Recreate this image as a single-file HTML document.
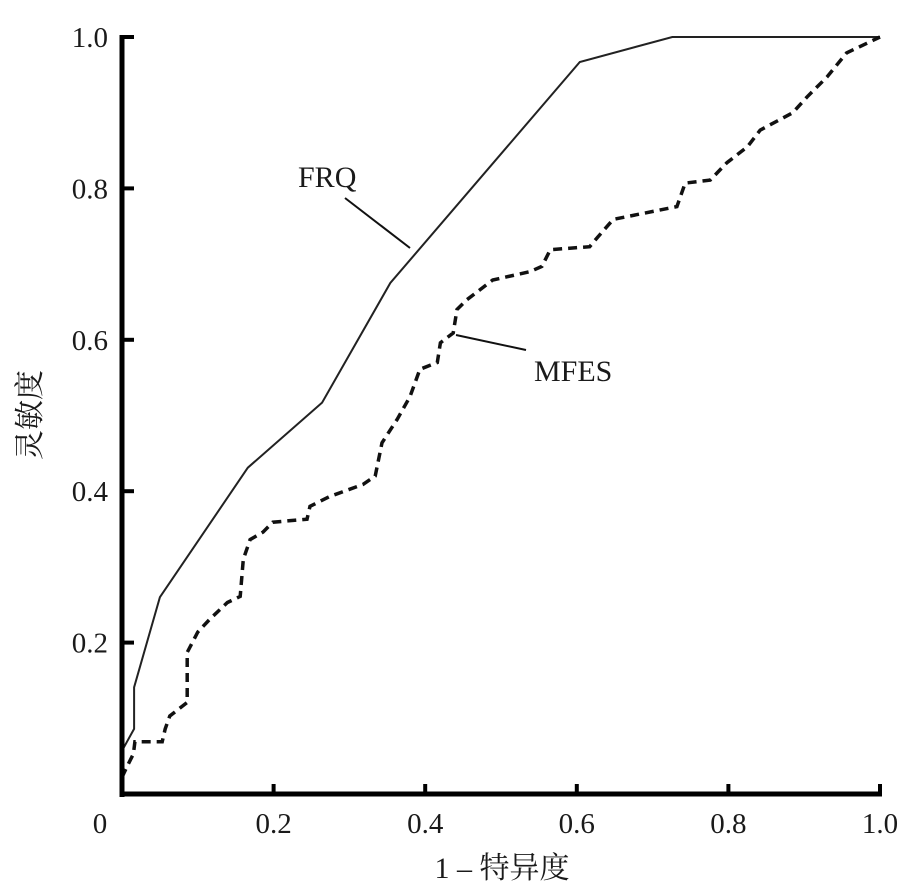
<!DOCTYPE html>
<html><head><meta charset="utf-8"><style>
html,body{margin:0;padding:0;background:#fff;}
svg{display:block;}
text{font-family:"Liberation Serif","Noto Serif CJK SC",serif;fill:#1a1a1a;}
</style></head><body>
<svg id="chart" width="914" height="890" viewBox="0 0 914 890"></svg>
<script>
const xTicks=[0,0.2,0.4,0.6,0.8,1.0];
const xTickLabels=["0","0.2","0.4","0.6","0.8","1.0"];
const yTicks=[0.2,0.4,0.6,0.8,1.0];
const yTickLabels=["0.2","0.4","0.6","0.8","1.0"];
const frqX=[0,0.001,0.016,0.016,0.05,0.166,0.264,0.354,0.604,0.726,1];
const frqY=[0.046,0.059,0.086,0.141,0.26,0.431,0.517,0.675,0.967,1,1];
const mfesX=[0,.007,.015,.017,.053,.057,.063,.086,.086,.100,.116,.139,.156,.160,.169,.186,.199,.244,.248,.274,.318,.334,.343,.363,.380,.393,.416,.420,.437,.442,.455,.489,.538,.554,.565,.617,.627,.648,.732,.743,.776,.798,.825,.842,.885,.904,.930,.956,1];
const mfesY=[.022,.037,.053,.069,.069,.086,.103,.121,.187,.214,.231,.253,.261,.310,.336,.346,.359,.363,.380,.393,.409,.420,.464,.495,.525,.561,.570,.596,.609,.640,.653,.679,.690,.697,.719,.723,.735,.759,.776,.807,.811,.834,.855,.877,.900,.921,.947,.979,1];

const X0=122,X1=880,Y0=794,Y1=37;
const sx=v=>X0+(X1-X0)*v;
const sy=v=>Y0-(Y0-Y1)*v;
const NS="http://www.w3.org/2000/svg";
const svg=document.getElementById('chart');
function mk(tag,attrs,parent){const e=document.createElementNS(NS,tag);for(const k in attrs)e.setAttribute(k,attrs[k]);(parent||svg).appendChild(e);return e;}

const pf=frqX.map((x,i)=>sx(x).toFixed(1)+','+sy(frqY[i]).toFixed(1)).join(' ');
const frq=mk('polyline',{points:pf,fill:'none',stroke:'#222','stroke-width':2});


const pm=mfesX.map((x,i)=>sx(x).toFixed(1)+','+sy(mfesY[i]).toFixed(1)).join(' ');
const mf=mk('polyline',{points:pm,fill:'none',stroke:'#111','stroke-width':3.5,'stroke-dasharray':'9,6'});



const ya=mk('line',{x1:X0,y1:Y1-2,x2:X0,y2:Y0+3,stroke:'#000','stroke-width':5});


const xa=mk('line',{x1:X0-2,y1:Y0,x2:X1+2,y2:Y0,stroke:'#000','stroke-width':5});



xTicks.forEach((v,i)=>{
  if(v>0){const t=mk('line',{x1:sx(v),y1:Y0,x2:sx(v),y2:Y0-10,stroke:'#000','stroke-width':4});
  
  }
  const l=mk('text',{x:sx(v)-(v===0?22:0),y:833,'font-size':29,'text-anchor':'middle'});
  l.textContent=xTickLabels[i];
  
  
});
yTicks.forEach((v,i)=>{
  const t=mk('line',{x1:X0,y1:sy(v),x2:X0+12,y2:sy(v),stroke:'#000','stroke-width':4});
  
  
  const l=mk('text',{x:108,y:sy(v)+10,'font-size':29,'text-anchor':'end'});
  l.textContent=yTickLabels[i];
  
  
});

const xt=mk('text',{x:502,y:878,'font-size':30,'text-anchor':'middle'});
xt.textContent='1 – 特异度';


const yt=mk('text',{x:0,y:0,'font-size':30,'text-anchor':'middle',transform:'translate(40,415) rotate(-90)'});
yt.textContent='灵敏度';



const fl=mk('text',{x:298,y:187,'font-size':30});
fl.textContent='FRQ';


const fp=mk('line',{x1:345,y1:198,x2:410,y2:248,stroke:'#111','stroke-width':2});


const ml=mk('text',{x:534,y:381,'font-size':30});
ml.textContent='MFES';


const mp=mk('line',{x1:456,y1:335,x2:526,y2:350,stroke:'#111','stroke-width':2});


</script>
</body></html>
